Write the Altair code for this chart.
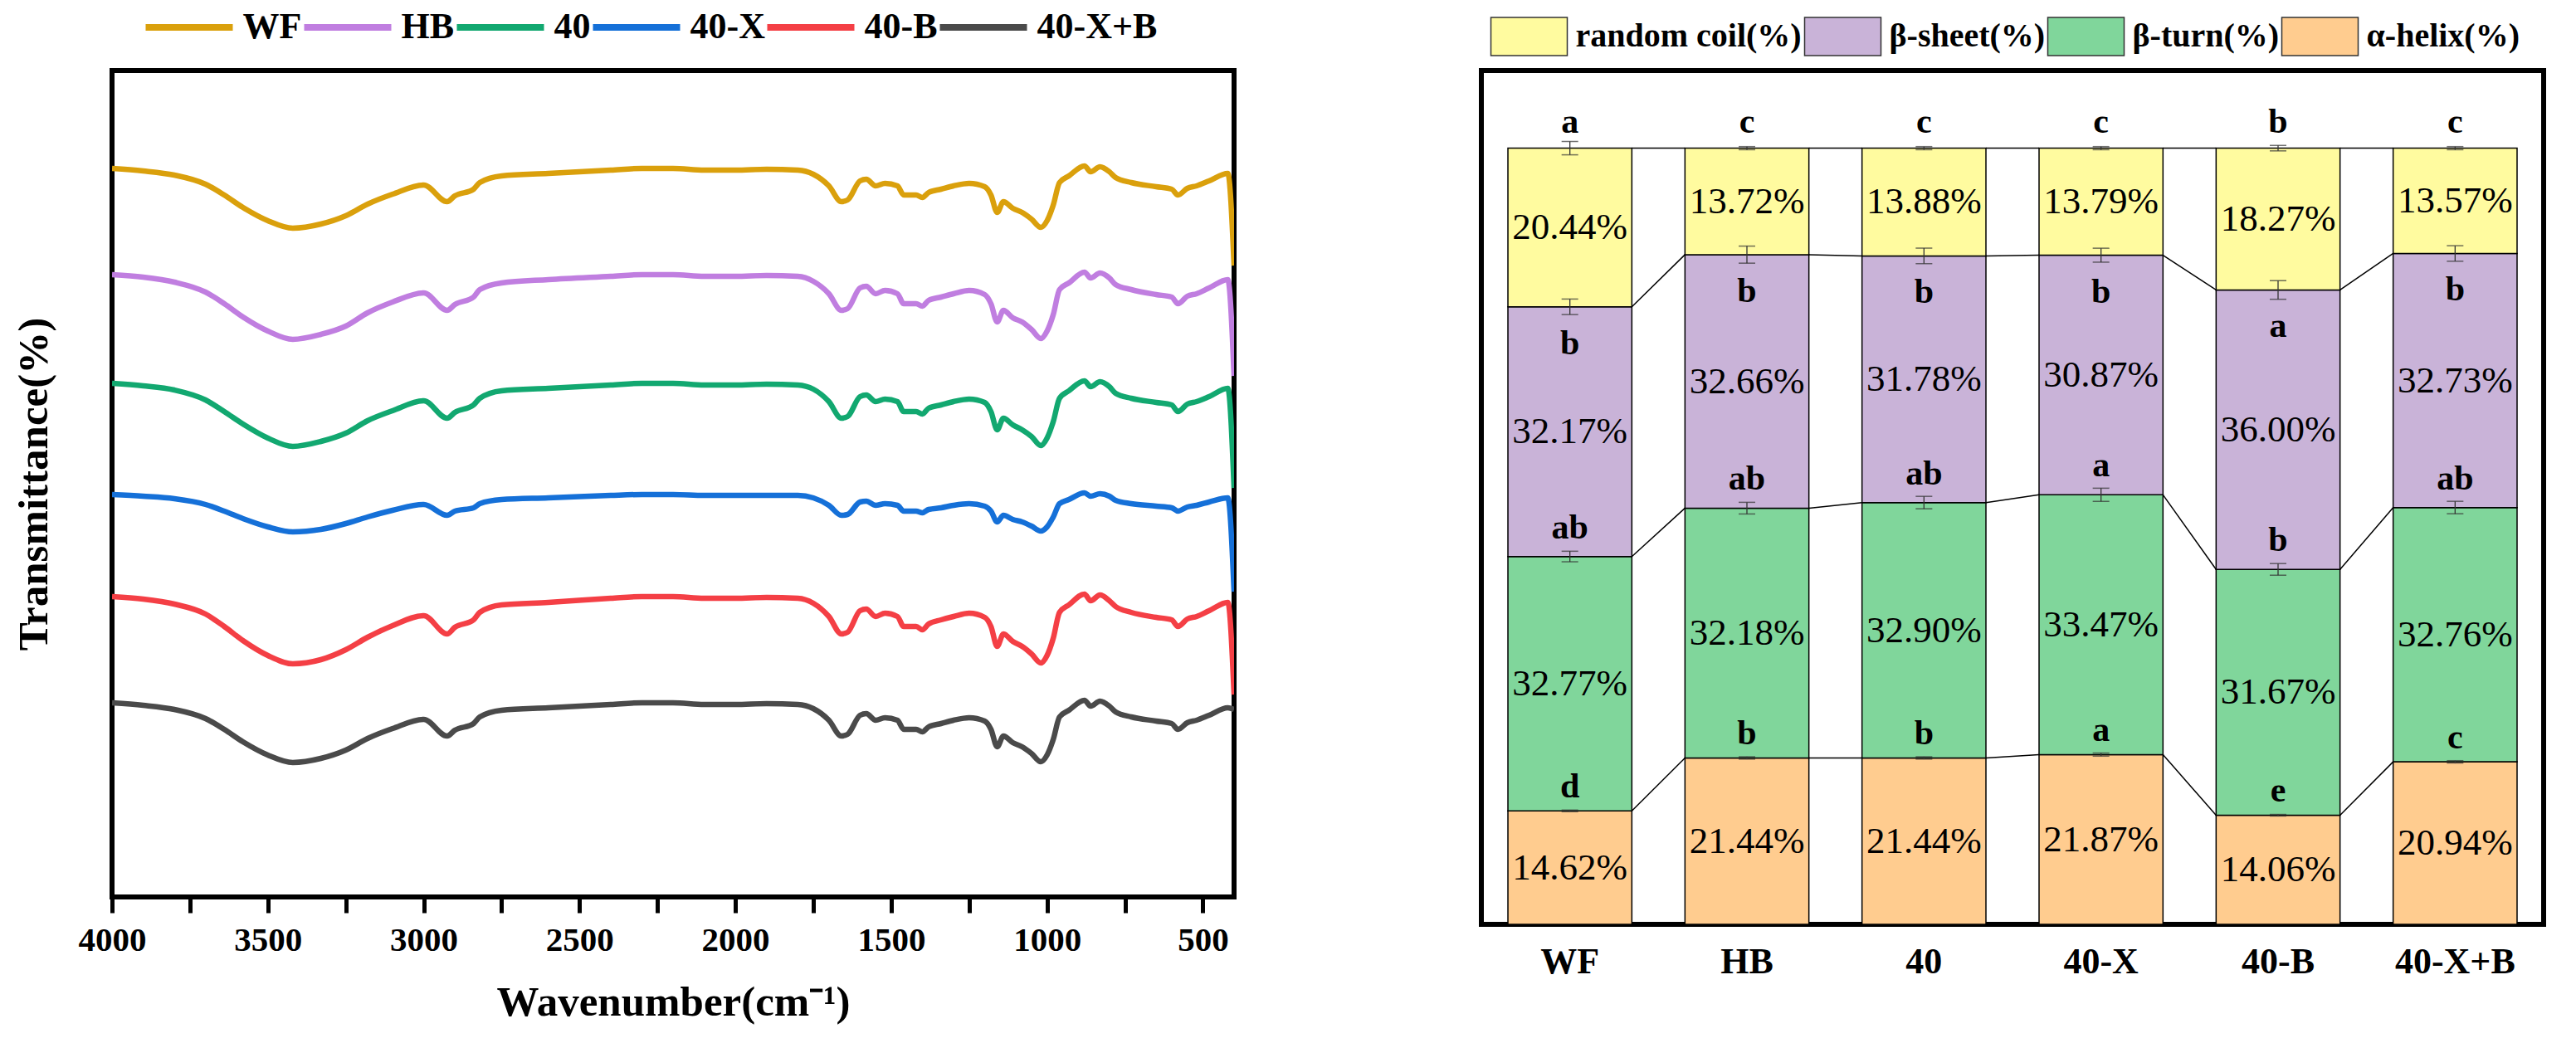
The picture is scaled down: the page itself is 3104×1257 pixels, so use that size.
#%%
import numpy as np
import pandas as pd
import altair as alt

SERIF = "Liberation Serif"

#%%
# FTIR spectra (offset units, bigger = higher on the panel)
wavenumber = [4000, 3900, 3800, 3700, 3640, 3580, 3500, 3420, 3330, 3250,
              3180, 3100, 3000, 2925, 2900, 2840, 2820, 2750, 2600, 2400,
              2300, 2200, 2100, 2000, 1900, 1800, 1750, 1700, 1660, 1640,
              1600, 1580, 1550, 1520, 1480, 1460, 1420, 1400, 1380, 1340,
              1300, 1250, 1200, 1180, 1160, 1140, 1110, 1080, 1050, 1020,
              1000, 980, 960, 930, 880, 860, 830, 800, 780, 730,
              650, 600, 580, 550, 520, 480, 420, 400]

wf = [878, 875, 870, 859, 846, 831, 815, 806, 811, 821,
      835, 847, 858, 838, 845, 853, 861, 869, 872, 876,
      878, 878, 876, 876, 877, 876, 871, 857, 838, 840,
      863, 865, 857, 860, 857, 846, 846, 843, 849, 853,
      857, 860, 856, 846, 825, 838, 830, 825, 817, 807,
      815, 834, 861, 869, 881, 874, 880, 874, 867, 861,
      856, 853, 846, 854, 857, 863, 872, 761]

hb = [750, 747, 741, 729, 715, 699, 682, 672, 678, 688,
      704, 717, 728, 707, 714, 723, 732, 740, 744, 748,
      750, 750, 748, 748, 749, 748, 742, 727, 707, 709,
      734, 736, 727, 731, 727, 715, 715, 712, 719, 723,
      727, 731, 726, 715, 693, 707, 698, 693, 684, 673,
      682, 702, 732, 740, 753, 746, 752, 746, 738, 732,
      726, 723, 715, 724, 727, 734, 744, 628]

s40 = [619, 616, 611, 599, 585, 570, 553, 543, 549, 559,
       574, 586, 598, 577, 584, 593, 601, 610, 613, 617,
       619, 619, 617, 617, 618, 617, 612, 597, 577, 579,
       603, 605, 597, 600, 597, 585, 585, 582, 589, 593,
       597, 600, 596, 585, 563, 577, 569, 563, 555, 544,
       553, 573, 601, 610, 622, 615, 621, 615, 607, 601,
       596, 593, 585, 594, 597, 603, 613, 493]

s40x = [485, 483, 480, 473, 465, 456, 446, 440, 443, 450,
        458, 466, 473, 460, 465, 469, 474, 479, 481, 484,
        485, 485, 484, 484, 484, 484, 481, 472, 460, 461,
        476, 477, 472, 474, 472, 465, 465, 463, 467, 469,
        472, 474, 471, 465, 452, 460, 455, 452, 447, 441,
        446, 458, 474, 479, 487, 483, 486, 483, 478, 474,
        471, 469, 465, 470, 472, 476, 481, 368]

s40b = [362, 359, 353, 341, 326, 309, 291, 281, 286, 298,
        313, 327, 339, 317, 325, 334, 343, 352, 355, 360,
        362, 362, 360, 360, 361, 360, 354, 338, 317, 319,
        345, 347, 338, 342, 338, 326, 326, 322, 329, 334,
        338, 342, 337, 326, 302, 317, 308, 302, 293, 282,
        291, 312, 343, 352, 365, 357, 364, 357, 350, 343,
        337, 334, 326, 335, 338, 345, 355, 244]

s40xb = [234, 231, 226, 215, 202, 187, 171, 162, 167, 177,
         191, 203, 214, 194, 201, 209, 217, 225, 228, 232,
         234, 234, 232, 232, 233, 232, 227, 213, 194, 196,
         219, 221, 213, 216, 213, 202, 202, 199, 205, 209,
         213, 216, 212, 202, 181, 194, 186, 181, 173, 163,
         171, 190, 217, 225, 237, 230, 236, 230, 223, 217,
         212, 209, 202, 210, 213, 219, 228, 226]

samples = ["WF", "HB", "40", "40-X", "40-B", "40-X+B"]
sample_colors = ["#DAA00C", "#C07EE0", "#12A870", "#1570D8", "#F43F45", "#4A4A4A"]

spec = pd.DataFrame({"wavenumber": wavenumber, "WF": wf, "HB": hb, "40": s40,
                     "40-X": s40x, "40-B": s40b, "40-X+B": s40xb})
spec = spec.melt("wavenumber", var_name="sample", value_name="T")

#%%
# secondary structure (right panel)
cats = ["WF", "HB", "40", "40-X", "40-B", "40-X+B"]
helix = [14.62, 21.44, 21.44, 21.87, 14.06, 20.94]
turn = [32.77, 32.18, 32.90, 33.47, 31.67, 32.76]
sheet = [32.17, 32.66, 31.78, 30.87, 36.00, 32.73]
coil = [20.44, 13.72, 13.88, 13.79, 18.27, 13.57]

helix_err = [0.10, 0.15, 0.15, 0.20, 0.10, 0.15]
turn_err = [0.68, 0.75, 0.80, 0.85, 0.75, 0.80]
sheet_err = [1.00, 1.10, 1.00, 0.90, 1.20, 1.00]
coil_err = [0.86, 0.20, 0.20, 0.20, 0.35, 0.20]

helix_sig = ["d", "b", "b", "a", "e", "c"]
turn_sig = ["ab", "ab", "ab", "a", "b", "ab"]
sheet_sig = ["b", "b", "b", "b", "a", "b"]
coil_sig = ["a", "c", "c", "c", "b", "c"]

# bottom to top
structs = ["α-helix(%)", "β-turn(%)", "β-sheet(%)", "random coil(%)"]
legend_order = ["random coil(%)", "β-sheet(%)", "β-turn(%)", "α-helix(%)"]
legend_colors = ["#FFFB9F", "#C9B3D8", "#80D69B", "#FFCC8F"]
sig_dy = {"α-helix(%)": -16, "β-turn(%)": -22, "β-sheet(%)": 57, "random coil(%)": -19}

rows = []
for i, c in enumerate(cats):
    base = 0.0
    for name, vals, errs, sigs in zip(structs, [helix, turn, sheet, coil],
                                      [helix_err, turn_err, sheet_err, coil_err],
                                      [helix_sig, turn_sig, sheet_sig, coil_sig]):
        top = base + vals[i]
        rows.append(dict(cat=c, struct=name, y0=base, y1=top, mid=(base + top) / 2,
                         label=f"{vals[i]:.2f}%", sig=sigs[i],
                         lo=top - errs[i], hi=top + errs[i]))
        base = top
comp = pd.DataFrame(rows)

links = []
for i in range(len(cats) - 1):
    for name in structs:
        a = comp.query("cat == @cats[@i] and struct == @name").y1.iloc[0]
        b = comp.query("cat == @cats[@i + 1] and struct == @name").y1.iloc[0]
        links.append(dict(cat=cats[i], nxt=cats[i + 1], ya=a, yb=b))
links = pd.DataFrame(links)

#%%
# left: FTIR
# legend symbols are long paths drawn with a small size, so the legend rows stay short
ftir = (alt.Chart(spec)
        .mark_line(strokeWidth=6.5, clip=True, interpolate="monotone")
        .encode(x=alt.X("wavenumber:Q",
                        scale=alt.Scale(domain=[4000, 400], nice=False, zero=False),
                        axis=alt.Axis(values=list(range(4000, 499, -250)), format="d",
                                      labelExpr="datum.value % 500 == 0 ? datum.label : ''",
                                      labelFlush=False, labelOverlap=False,
                                      tickSize=19, tickWidth=5, tickColor="black",
                                      domain=False, labelFontSize=41, labelFontWeight="bold",
                                      labelPadding=13, titleFontSize=51, titleFontWeight="bold",
                                      titlePadding=30),
                        title="Wavenumber(cm⁻¹)"),
                y=alt.Y("T:Q", scale=alt.Scale(domain=[0, 996], nice=False),
                        axis=alt.Axis(labels=False, ticks=False, domain=False,
                                      titleFontSize=51, titleFontWeight="bold",
                                      titlePadding=68),
                        title="Transmittance(%)"),
                color=alt.Color("sample:N",
                                scale=alt.Scale(domain=samples, range=sample_colors),
                                legend=alt.Legend(orient="none", legendX=71, legendY=-74,
                                                  direction="horizontal", columns=6,
                                                  title=None, symbolType="M-5,0H5",
                                                  symbolSize=441, symbolStrokeWidth=8,
                                                  labelFont=SERIF, labelFontSize=44,
                                                  labelFontWeight="bold", labelColor="black",
                                                  labelLimit=0, labelOffset=42.5,
                                                  columnPadding=-14)))
        .properties(width=1352, height=996))

#%%
# right: stacked secondary structure
def xe(field="cat:N", **kw):
    return alt.X(field, scale=alt.Scale(domain=cats, paddingInner=0.3, paddingOuter=0.15),
                 axis=alt.Axis(ticks=False, domain=False, labelAngle=0, labelFontSize=44,
                               labelFontWeight="bold", labelPadding=23),
                 title=None, **kw)

def ye(field):
    return alt.Y(field, scale=alt.Scale(domain=[0, 110], nice=False), axis=None)

base = alt.Chart(comp)

bars = base.mark_bar(stroke="black", strokeWidth=1.5).encode(
    x=xe(), y=ye("y0:Q"), y2="y1:Q",
    fill=alt.Fill("struct:N", scale=alt.Scale(domain=legend_order, range=legend_colors),
                  legend=alt.Legend(orient="none", legendX=37.5, legendY=-61,
                                    direction="horizontal", columns=4, title=None,
                                    symbolType="M-4,-2H4V2H-4Z", symbolSize=529,
                                    symbolStrokeColor="#333333", symbolStrokeWidth=1.5,
                                    symbolOpacity=1,
                                    labelFont=SERIF, labelFontSize=40,
                                    labelFontWeight="bold", labelColor="black",
                                    labelLimit=0, labelOffset=36, columnPadding=0)))

joins = alt.Chart(links).mark_rule(color="black", strokeWidth=1.5).encode(
    x=xe(bandPosition=1), x2=alt.X2("nxt:N", bandPosition=0),
    y=ye("ya:Q"), y2="yb:Q")

err = base.mark_rule(color="#333333", strokeWidth=1.3).encode(x=xe(), y=ye("lo:Q"), y2="hi:Q")
cap_lo = base.mark_tick(color="#333333", size=20, thickness=1.5).encode(x=xe(), y=ye("lo:Q"))
cap_hi = base.mark_tick(color="#333333", size=20, thickness=1.5).encode(x=xe(), y=ye("hi:Q"))

pct = base.mark_text(font=SERIF, fontSize=45, color="black", baseline="middle").encode(
    x=xe(), y=ye("mid:Q"), text="label:N")

sigs = [base.transform_filter(alt.datum.struct == name)
        .mark_text(font=SERIF, fontSize=42, fontWeight="bold", color="black",
                   baseline="alphabetic", dy=sig_dy[name])
        .encode(x=xe(), y=ye("y1:Q"), text="sig:N")
        for name in structs]

struct_chart = alt.layer(bars, joins, err, cap_lo, cap_hi, pct, *sigs).properties(
    width=1280, height=1029)

#%%
chart = (alt.hconcat(ftir, struct_chart, spacing=292,
                     padding={"left": 4, "top": 0, "right": 0, "bottom": 0})
         .resolve_scale(color="independent", fill="independent")
         .resolve_legend(color="independent", fill="independent")
         .configure_view(stroke="black", strokeWidth=6)
         .configure_axis(labelFont=SERIF, titleFont=SERIF, labelColor="black",
                         titleColor="black", grid=False))

chart.save("out.html", embed_options={"renderer": "svg", "actions": False})
